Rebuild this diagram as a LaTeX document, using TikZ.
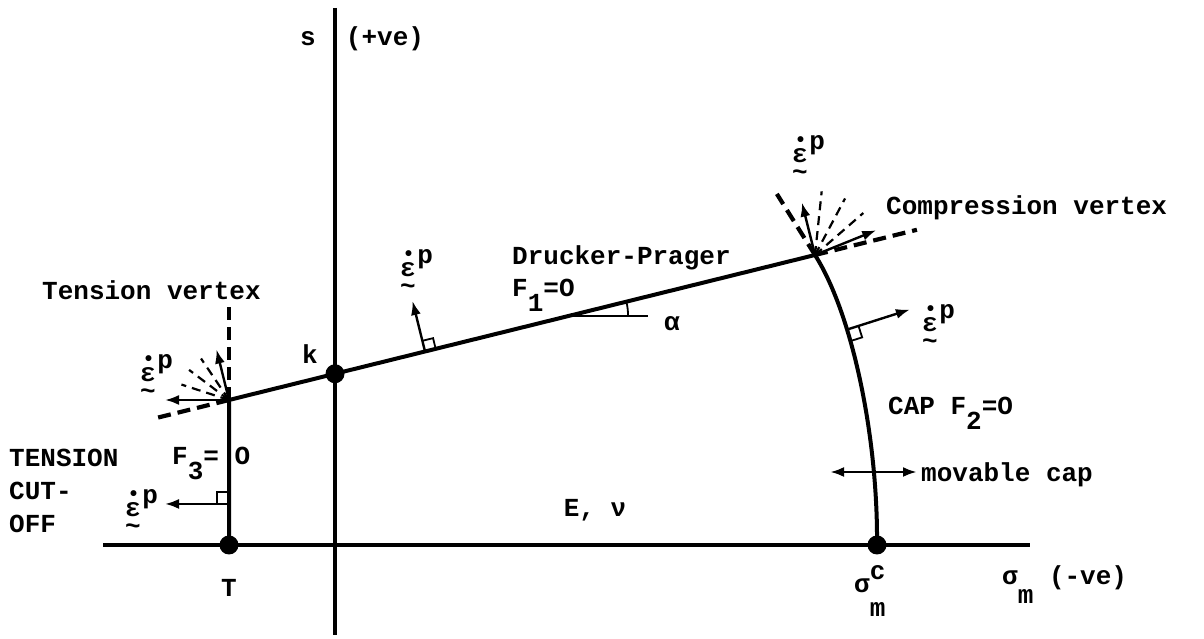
\documentclass[tikz,border=0pt]{standalone}
\usepackage{graphicx}
\usepackage{fontspec}
\setmainfont{Liberation Mono}
\usetikzlibrary{arrows.meta,calc}
\newcommand\dn[1]{\raisebox{-0.55em}{#1}}
\newcommand\up[1]{\raisebox{0.5em}{#1}}
\newcommand\epsp{\rlap{\kern0.08em\raisebox{0.62em}{\scalebox{0.8}{•}}}\rlap{\raisebox{-0.68em}{\textasciitilde}}ε\kern0.06em\up{p}}

\begin{document}
\begin{tikzpicture}[x=1pt,y=1pt,
  axisline/.style={line width=3.2pt},
  yield/.style={line width=4pt},
  flow/.style={line width=2.4pt,-{Latex[length=14pt,width=10pt]}},
  fan/.style={line width=2.2pt,dash pattern=on 9pt off 6pt},
  extd/.style={line width=4.2pt,dash pattern=on 13pt off 7pt},
  sq/.style={line width=1.8pt},
  dotpt/.style={circle,fill,inner sep=0pt,minimum size=19pt},
  lbl/.style={inner sep=0pt,font=\fontsize{26}{30}\selectfont\bfseries}]
\useasboundingbox (0,0) rectangle (1204,639);

% axes
\coordinate (sTop) at (335,631);
\coordinate (sBot) at (335,4);
\coordinate (mL) at (103,94);
\coordinate (mR) at (1030,94);
\draw[axisline] (sTop) -- (sBot);
\draw[axisline] (mL) -- (mR);

% yield surfaces
\node[dotpt] (T) at (229,94) {};
\coordinate (tv) at (229,239);
\coordinate (cv) at (815,384);
\node[dotpt] (sc) at (877,94) {};
\draw[yield] (T.center) -- (tv) -- (cv);
\draw[yield] (cv) .. controls +(38,-60) and +(1,106) .. (sc.center) coordinate[pos=0.32] (cn);
\node[dotpt] (k) at (intersection of tv--cv and sTop--sBot) {};

% dashed limits at the vertices
\draw[extd] (tv) -- ++(0,97) coordinate (tvUp);
\draw[extd] (tv) -- ++(193.9:74) coordinate (tvDn);
\draw[extd] (cv) -- ++(13.9:105) coordinate (cvDP);
\draw[extd] (cv) -- ++(122:72) coordinate (cvCap);
\foreach \a in {124,143,162} \draw[fan] (tv) -- ++(\a:50);
\foreach \a in {84,62,41} \draw[fan] (cv) -- ++(\a:64);

% plastic strain rate vectors
\coordinate (tvN) at ($(tv)+(103.9:52)$);
\coordinate (tvH) at ($(tv)+(-64,0)$);
\draw[flow] (tv) -- (tvN);
\draw[flow] (tv) -- (tvH);
\coordinate (cvN) at ($(cv)+(104:54)$);
\coordinate (cvC) at ($(cv)+(22:66)$);
\draw[flow] (cv) -- (cvN);
\draw[flow] (cv) -- (cvC);

\coordinate (dpF) at ($(tv)!0.3345!(cv)$);
\coordinate (dpN) at ($(dpF)+(103.9:52)$);
\draw[flow] (dpF) -- (dpN);
\begin{scope}[shift={(dpF)},rotate=13.9]
  \draw[sq] (11,0) -- (11,11) -- (0,11);
\end{scope}

\coordinate (cnT) at ($(cn)+(17.7:66)$);
\draw[flow] (cn) -- (cnT);
\begin{scope}[shift={(cn)},rotate=17.7]
  \draw[sq] (0,-12) -- (12,-12) -- (12,0);
\end{scope}

\coordinate (tcF) at ($(T)!0.283!(tv)$);
\coordinate (tcN) at ($(tcF)+(-64,0)$);
\draw[flow] (tcF) -- (tcN);
\begin{scope}[shift={(tcF)}]
  \draw[sq] (-12,0) -- (-12,12) -- (0,12);
\end{scope}

% friction angle
\coordinate (aA) at ($(tv)!0.582!(cv)$);
\coordinate (aH) at ($(aA)+(78,0)$);
\draw[sq] (aA) -- (aH);
\draw[sq] ($(aA)+(58,0)$) arc[start angle=0,end angle=13.9,radius=58];

% movable cap
\coordinate (mcL) at (830,167);
\coordinate (mcR) at (917,167);
\draw[line width=2.8pt,{Latex[length=14pt,width=10pt]}-{Latex[length=14pt,width=10pt]}] (mcL) -- (mcR);

% labels
\node[lbl,anchor=base] (sLab) at (308,593) {s};
\node[lbl,anchor=base] (sSign) at (385,593) {(+ve)};
\node[lbl,anchor=base west] (cvLab) at (886,424) {Compression vertex};
\node[lbl,anchor=base west] (tvLab) at (42,339) {Tension vertex};
\node[lbl,anchor=base west] (dpLab) at (512,374) {Drucker-Prager};
\node[lbl,anchor=base west] (dpEq) at (512,342) {F\dn{1}=O};
\node[lbl,anchor=base] (alpha) at (672,308) {α};
\node[lbl,anchor=base] (kLab) at (310,275) {k};
\node[lbl,anchor=base west] (capLab) at (888,224) {CAP F\dn{2}=O};
\node[lbl,anchor=base west] (mcLab) at (921,157) {movable cap};
\node[lbl,anchor=base west] (tcLab1) at (9,172) {TENSION};
\node[lbl,anchor=base west] (tcLab2) at (9,139) {CUT-};
\node[lbl,anchor=base west] (tcLab3) at (9,106) {OFF};
\node[lbl,anchor=base west] (tcEq) at (172,174) {F\dn{3}= O};
\node[lbl,anchor=base] (ev) at (595,122) {E, ν};
\node[lbl,anchor=base] (tLab) at (229,42) {T};
\node[lbl,anchor=base west] (scLab) at (854,46) {σ\rlap{\up{c}}\raisebox{-0.9em}{m}};
\node[lbl,anchor=base west] (smLab) at (1002,54) {σ\raisebox{-0.7em}{m} (-ve)};

\node[lbl,anchor=base west] (eCv) at (792,476) {\epsp};
\node[lbl,anchor=base west] (eTv) at (140,257) {\epsp};
\node[lbl,anchor=base west] (eDp) at (400,362) {\epsp};
\node[lbl,anchor=base west] (eCap) at (922,307) {\epsp};
\node[lbl,anchor=base west] (eTc) at (125,122) {\epsp};
\end{tikzpicture}
\end{document}
